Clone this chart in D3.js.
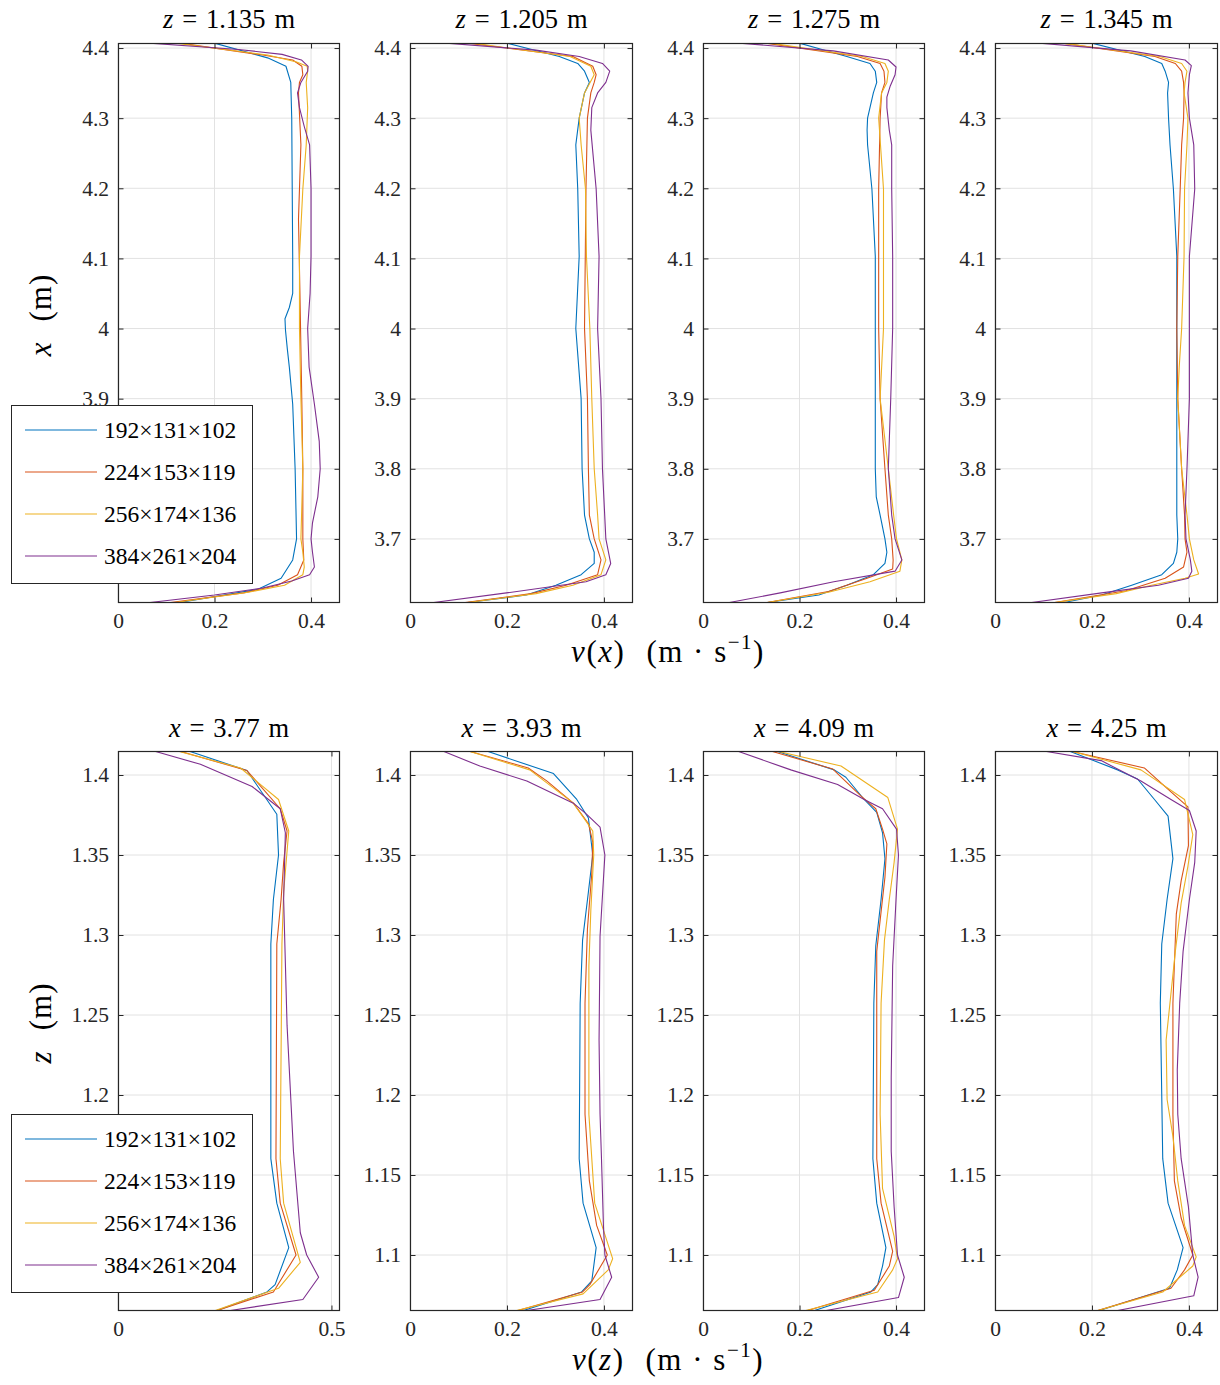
<!DOCTYPE html>
<html><head><meta charset="utf-8">
<script src="https://cdn.jsdelivr.net/npm/d3@7"></script>
<style>body{margin:0;background:#fff}svg{display:block}</style>
</head><body>
<script>
// ---------------- DATA ----------------
const seriesLabels = ["192\u00d7131\u00d7102", "224\u00d7153\u00d7119", "256\u00d7174\u00d7136", "384\u00d7261\u00d7204"];
const topTitleValues = ["1.135", "1.205", "1.275", "1.345"];
const bottomTitleValues = ["3.77", "3.93", "4.09", "4.25"];
const topYTicks = [3.7, 3.8, 3.9, 4.0, 4.1, 4.2, 4.3, 4.4];
const topYTickLabels = ["3.7", "3.8", "3.9", "4", "4.1", "4.2", "4.3", "4.4"];
const bottomYTicks = [1.1, 1.15, 1.2, 1.25, 1.3, 1.35, 1.4];
const bottomYTickLabels = ["1.1", "1.15", "1.2", "1.25", "1.3", "1.35", "1.4"];
const xTicksA = [0, 0.2, 0.4];
const xTickLabelsA = ["0", "0.2", "0.4"];
const xTicksB = [0, 0.5];
const xTickLabelsB = ["0", "0.5"];

// each series: [position (m), velocity (m/s)]; order: blue, orange, yellow, purple
const top1 = [
  [[4.407,0.20],[4.386,0.31],[4.374,0.348],[4.351,0.358],[4.300,0.360],[4.199,0.361],[4.103,0.362],[4.050,0.362],[4.030,0.355],[4.014,0.346],[3.998,0.347],[3.970,0.351],[3.945,0.355],[3.892,0.362],[3.800,0.367],[3.700,0.370],[3.670,0.362],[3.644,0.338],[3.628,0.289],[3.609,0.125]],
  [[4.407,0.13],[4.390,0.30],[4.383,0.362],[4.374,0.381],[4.362,0.383],[4.351,0.376],[4.336,0.374],[4.262,0.379],[4.156,0.374],[4.050,0.377],[3.892,0.381],[3.800,0.383],[3.700,0.383],[3.670,0.385],[3.649,0.372],[3.634,0.331],[3.623,0.26],[3.609,0.105]],
  [[4.407,0.12],[4.390,0.31],[4.380,0.37],[4.374,0.392],[4.367,0.393],[4.351,0.390],[4.315,0.393],[4.262,0.390],[4.199,0.383],[4.103,0.376],[4.000,0.376],[3.900,0.379],[3.800,0.383],[3.700,0.379],[3.681,0.383],[3.660,0.386],[3.649,0.383],[3.634,0.345],[3.624,0.27],[3.609,0.115]],
  [[4.407,0.066],[4.398,0.25],[4.391,0.34],[4.383,0.380],[4.374,0.394],[4.367,0.393],[4.351,0.379],[4.336,0.372],[4.315,0.376],[4.288,0.386],[4.262,0.397],[4.200,0.400],[4.103,0.400],[4.050,0.398],[4.000,0.393],[3.945,0.396],[3.892,0.407],[3.839,0.417],[3.800,0.419],[3.760,0.414],[3.723,0.403],[3.700,0.400],[3.681,0.403],[3.660,0.407],[3.649,0.397],[3.640,0.36],[3.630,0.30],[3.620,0.20],[3.609,0.062]]
];
const top2 = [
  [[4.407,0.20],[4.388,0.308],[4.378,0.346],[4.367,0.360],[4.351,0.370],[4.336,0.360],[4.300,0.349],[4.262,0.342],[4.199,0.346],[4.103,0.349],[4.000,0.342],[3.900,0.353],[3.800,0.355],[3.734,0.360],[3.700,0.370],[3.681,0.380],[3.665,0.380],[3.649,0.353],[3.634,0.301],[3.620,0.24],[3.609,0.115]],
  [[4.407,0.12],[4.388,0.336],[4.374,0.377],[4.362,0.384],[4.351,0.380],[4.336,0.373],[4.300,0.366],[4.199,0.363],[4.000,0.360],[3.900,0.366],[3.800,0.368],[3.734,0.370],[3.700,0.380],[3.670,0.394],[3.649,0.387],[3.634,0.322],[3.622,0.25],[3.609,0.11]],
  [[4.407,0.13],[4.388,0.33],[4.374,0.373],[4.362,0.380],[4.336,0.360],[4.300,0.349],[4.262,0.353],[4.199,0.362],[4.103,0.364],[4.000,0.371],[3.900,0.375],[3.800,0.380],[3.734,0.387],[3.700,0.390],[3.670,0.404],[3.649,0.394],[3.634,0.336],[3.622,0.26],[3.609,0.115]],
  [[4.407,0.075],[4.397,0.26],[4.388,0.349],[4.378,0.397],[4.367,0.412],[4.351,0.404],[4.336,0.387],[4.315,0.375],[4.283,0.373],[4.199,0.384],[4.103,0.390],[4.000,0.387],[3.900,0.394],[3.800,0.397],[3.700,0.404],[3.665,0.414],[3.649,0.404],[3.639,0.363],[3.623,0.199],[3.609,0.045]]
];
const top3 = [
  [[4.407,0.20],[4.388,0.298],[4.378,0.346],[4.367,0.357],[4.351,0.360],[4.336,0.353],[4.315,0.346],[4.300,0.341],[4.283,0.340],[4.262,0.341],[4.199,0.350],[4.103,0.357],[4.000,0.357],[3.900,0.357],[3.800,0.357],[3.760,0.359],[3.734,0.367],[3.700,0.377],[3.681,0.381],[3.665,0.377],[3.649,0.353],[3.634,0.298],[3.620,0.24],[3.609,0.13]],
  [[4.407,0.13],[4.388,0.32],[4.378,0.367],[4.367,0.375],[4.351,0.377],[4.336,0.370],[4.300,0.367],[4.199,0.364],[4.000,0.364],[3.900,0.367],[3.800,0.377],[3.734,0.384],[3.700,0.391],[3.670,0.394],[3.657,0.393],[3.644,0.340],[3.625,0.26],[3.609,0.13]],
  [[4.407,0.14],[4.388,0.33],[4.378,0.377],[4.367,0.384],[4.351,0.381],[4.336,0.370],[4.300,0.364],[4.199,0.374],[4.103,0.374],[4.000,0.374],[3.900,0.367],[3.800,0.384],[3.734,0.395],[3.700,0.401],[3.670,0.412],[3.654,0.408],[3.639,0.346],[3.624,0.26],[3.609,0.13]],
  [[4.407,0.076],[4.396,0.27],[4.383,0.384],[4.373,0.400],[4.362,0.398],[4.346,0.388],[4.330,0.381],[4.315,0.381],[4.283,0.386],[4.262,0.391],[4.199,0.391],[4.103,0.393],[4.000,0.393],[3.900,0.389],[3.800,0.384],[3.734,0.391],[3.700,0.398],[3.670,0.412],[3.654,0.398],[3.639,0.271],[3.623,0.16],[3.609,0.052]]
];
const top4 = [
  [[4.407,0.20],[4.388,0.309],[4.378,0.344],[4.367,0.351],[4.351,0.358],[4.336,0.356],[4.300,0.358],[4.262,0.361],[4.199,0.368],[4.103,0.375],[4.000,0.375],[3.900,0.375],[3.800,0.375],[3.734,0.375],[3.700,0.377],[3.681,0.375],[3.665,0.368],[3.649,0.344],[3.634,0.282],[3.620,0.22],[3.609,0.14]],
  [[4.407,0.14],[4.388,0.33],[4.378,0.372],[4.367,0.385],[4.351,0.389],[4.336,0.390],[4.300,0.389],[4.262,0.385],[4.199,0.382],[4.103,0.377],[4.000,0.375],[3.900,0.377],[3.800,0.385],[3.734,0.391],[3.700,0.392],[3.681,0.396],[3.660,0.389],[3.644,0.351],[3.626,0.27],[3.609,0.12]],
  [[4.407,0.14],[4.388,0.34],[4.378,0.385],[4.367,0.396],[4.351,0.392],[4.336,0.390],[4.300,0.398],[4.262,0.396],[4.199,0.391],[4.103,0.390],[4.000,0.385],[3.945,0.380],[3.900,0.377],[3.800,0.385],[3.734,0.396],[3.700,0.401],[3.670,0.410],[3.650,0.420],[3.644,0.392],[3.634,0.323],[3.622,0.25],[3.609,0.12]],
  [[4.407,0.092],[4.396,0.28],[4.383,0.392],[4.375,0.405],[4.362,0.401],[4.336,0.398],[4.300,0.401],[4.262,0.410],[4.199,0.412],[4.103,0.401],[4.000,0.401],[3.900,0.401],[3.800,0.396],[3.734,0.392],[3.700,0.394],[3.670,0.403],[3.654,0.406],[3.644,0.399],[3.634,0.337],[3.623,0.22],[3.609,0.072]]
];
const bottom1 = [
  [[1.4153,0.162],[1.4028,0.302],[1.3755,0.372],[1.350,0.376],[1.3222,0.364],[1.2944,0.358],[1.1602,0.358],[1.1324,0.372],[1.1046,0.400],[1.0815,0.368],[1.0769,0.349],[1.0653,0.232]],
  [[1.4153,0.139],[1.4028,0.302],[1.3789,0.380],[1.3650,0.396],[1.3454,0.388],[1.3222,0.382],[1.2944,0.372],[1.1602,0.370],[1.1324,0.380],[1.1000,0.417],[1.0769,0.364],[1.0653,0.232]],
  [[1.4153,0.135],[1.4044,0.287],[1.3847,0.376],[1.3650,0.400],[1.3269,0.388],[1.2944,0.384],[1.1602,0.380],[1.1324,0.388],[1.0954,0.427],[1.0792,0.376],[1.0653,0.228]],
  [[1.4153,0.080],[1.4067,0.193],[1.3928,0.314],[1.3789,0.380],[1.3639,0.392],[1.3222,0.388],[1.2435,0.396],[1.1648,0.411],[1.1139,0.427],[1.1000,0.442],[1.0861,0.470],[1.0722,0.433],[1.0653,0.263]]
];
const bottom2 = [
  [[1.4153,0.155],[1.4009,0.296],[1.3847,0.344],[1.3731,0.368],[1.350,0.377],[1.3269,0.368],[1.2968,0.356],[1.2574,0.351],[1.1602,0.349],[1.1324,0.357],[1.1046,0.384],[1.0838,0.375],[1.0769,0.354],[1.0653,0.234]],
  [[1.4153,0.117],[1.4044,0.244],[1.3963,0.282],[1.3824,0.337],[1.3697,0.368],[1.3581,0.377],[1.3384,0.375],[1.3037,0.366],[1.2574,0.361],[1.1880,0.361],[1.1463,0.370],[1.1185,0.385],[1.1000,0.407],[1.0815,0.371],[1.0769,0.356],[1.0653,0.223]],
  [[1.4153,0.117],[1.4032,0.247],[1.3824,0.337],[1.3650,0.377],[1.350,0.379],[1.3153,0.373],[1.2806,0.369],[1.1880,0.369],[1.1324,0.381],[1.0977,0.418],[1.0907,0.409],[1.0757,0.357],[1.0653,0.220]],
  [[1.4153,0.065],[1.4056,0.144],[1.3963,0.241],[1.3824,0.337],[1.3755,0.364],[1.3674,0.392],[1.350,0.402],[1.2991,0.392],[1.2343,0.390],[1.1880,0.392],[1.1602,0.395],[1.1185,0.399],[1.1000,0.402],[1.0861,0.416],[1.0722,0.392],[1.0653,0.241]]
];
const bottom3 = [
  [[1.4153,0.148],[1.4032,0.272],[1.3986,0.296],[1.3847,0.334],[1.3766,0.360],[1.3639,0.372],[1.3477,0.377],[1.3222,0.369],[1.2933,0.358],[1.2574,0.354],[1.1602,0.352],[1.1324,0.360],[1.1046,0.379],[1.0931,0.372],[1.0815,0.362],[1.0769,0.348],[1.0653,0.231]],
  [[1.4153,0.137],[1.4037,0.269],[1.3870,0.327],[1.3789,0.358],[1.3662,0.372],[1.3569,0.381],[1.3361,0.377],[1.3037,0.365],[1.2898,0.360],[1.1602,0.360],[1.1324,0.369],[1.1023,0.393],[1.0931,0.386],[1.0780,0.355],[1.0653,0.217]],
  [[1.4153,0.148],[1.4056,0.286],[1.3859,0.383],[1.3662,0.403],[1.3454,0.396],[1.3222,0.386],[1.2968,0.376],[1.2574,0.369],[1.1880,0.367],[1.1417,0.372],[1.1116,0.396],[1.0977,0.403],[1.0907,0.393],[1.0769,0.362],[1.0653,0.213]],
  [[1.4153,0.068],[1.4032,0.182],[1.3940,0.279],[1.3847,0.334],[1.3789,0.372],[1.3662,0.401],[1.350,0.405],[1.3222,0.400],[1.2806,0.393],[1.2111,0.390],[1.1648,0.390],[1.1301,0.396],[1.1000,0.403],[1.0861,0.417],[1.0734,0.405],[1.0653,0.255]]
];
const bottom4 = [
  [[1.4153,0.150],[1.4032,0.253],[1.3975,0.294],[1.3847,0.329],[1.3743,0.357],[1.3477,0.367],[1.3222,0.355],[1.2944,0.344],[1.2574,0.341],[1.1602,0.346],[1.1324,0.357],[1.1046,0.388],[1.0907,0.376],[1.0792,0.360],[1.0653,0.215]],
  [[1.4153,0.150],[1.4044,0.308],[1.3894,0.363],[1.3801,0.398],[1.3558,0.399],[1.3338,0.384],[1.3130,0.374],[1.2574,0.367],[1.1880,0.367],[1.1463,0.370],[1.1231,0.384],[1.1000,0.408],[1.0907,0.391],[1.0792,0.363],[1.0653,0.212]],
  [[1.4153,0.153],[1.4032,0.301],[1.3847,0.391],[1.3627,0.408],[1.3431,0.398],[1.3199,0.384],[1.2898,0.372],[1.2343,0.353],[1.1972,0.355],[1.1741,0.367],[1.1463,0.377],[1.1185,0.391],[1.0988,0.415],[1.0931,0.408],[1.0769,0.346],[1.0653,0.212]],
  [[1.4153,0.094],[1.4090,0.219],[1.3963,0.301],[1.3847,0.363],[1.3778,0.401],[1.3650,0.415],[1.3454,0.412],[1.3222,0.401],[1.2898,0.388],[1.2574,0.381],[1.2157,0.376],[1.1880,0.377],[1.1602,0.384],[1.1301,0.399],[1.1000,0.408],[1.0861,0.419],[1.0745,0.410],[1.0653,0.253]]
];

// ---------------- LAYOUT / STYLE ----------------
const W = 1220, H = 1385;
const colors = ["#0072BD", "#D95319", "#EDB120", "#7E2F8E"];
const FONT = "'Liberation Serif', 'DejaVu Serif', serif";
const axisColor = "#262626";
const gridColor = "#e2e2e2";
const colLefts = [118, 410, 703, 995];
const colRights = [340, 633, 925, 1218];
const legendBox = { x: 11, w: 241, h: 178 };
const legendTops = [405, 1114];

const svg = d3.select("body").append("svg").attr("width", W).attr("height", H)
  .attr("font-family", FONT);
svg.append("rect").attr("width", W).attr("height", H).attr("fill", "#fff");

const rows = [
  { top: 43, bottom: 603, yDomain: [3.6086, 4.4072], yTicks: topYTicks, yTickLabels: topYTickLabels,
    panels: [top1, top2, top3, top4], titleVar: "z", titleVals: topTitleValues, titleY: 28 },
  { top: 751, bottom: 1311, yDomain: [1.065, 1.415], yTicks: bottomYTicks, yTickLabels: bottomYTickLabels,
    panels: [bottom1, bottom2, bottom3, bottom4], titleVar: "x", titleVals: bottomTitleValues, titleY: 737 }
];

const tickLen = 5.5;

rows.forEach((row, ri) => {
  row.panels.forEach((panelData, pi) => {
    const L = colLefts[pi], R = colRights[pi];
    const isWide = (ri === 1 && pi === 0);
    const xs = d3.scaleLinear().domain([0, isWide ? 0.52 : 0.46]).range([L, R]);
    const ys = d3.scaleLinear().domain(row.yDomain).range([row.bottom, row.top]);
    const xT = isWide ? xTicksB : xTicksA;
    const xTL = isWide ? xTickLabelsB : xTickLabelsA;
    const g = svg.append("g");

    // grid
    g.selectAll(null).data(xT).enter().append("line")
      .attr("x1", d => xs(d)).attr("x2", d => xs(d)).attr("y1", row.top).attr("y2", row.bottom)
      .attr("stroke", gridColor).attr("stroke-width", 1);
    g.selectAll(null).data(row.yTicks).enter().append("line")
      .attr("y1", d => ys(d)).attr("y2", d => ys(d)).attr("x1", L).attr("x2", R)
      .attr("stroke", gridColor).attr("stroke-width", 1);

    // data lines
    const clipId = "clip" + ri + "_" + pi;
    svg.append("clipPath").attr("id", clipId).append("rect")
      .attr("x", L).attr("y", row.top).attr("width", R - L).attr("height", row.bottom - row.top);
    const line = d3.line().x(d => xs(d[1])).y(d => ys(d[0]));
    panelData.forEach((s, si) => {
      g.append("path").attr("d", line(s)).attr("fill", "none")
        .attr("stroke", colors[si]).attr("stroke-width", 1.1)
        .attr("stroke-linejoin", "round")
        .attr("clip-path", `url(#${clipId})`);
    });

    // y tick labels hidden behind the legend (first column) are not drawn
    const lt = legendTops[ri];
    const visibleY = (pi === 0) ? row.yTicks.filter(v => { const py = ys(v); return py < lt - 2 || py > lt + legendBox.h + 8; }) : row.yTicks;

    // axes (d3 axes, inward ticks on all sides)
    const axL = d3.axisLeft(ys).tickValues(row.yTicks)
      .tickFormat((d, i) => visibleY.includes(d) ? row.yTickLabels[i] : "")
      .tickSizeInner(-tickLen).tickSizeOuter(0).tickPadding(9);
    const gl = g.append("g").attr("transform", `translate(${L},0)`).call(axL);
    const axR = d3.axisRight(ys).tickValues(row.yTicks).tickFormat("").tickSizeInner(-tickLen).tickSizeOuter(0);
    const gr = g.append("g").attr("transform", `translate(${R},0)`).call(axR);
    const axB = d3.axisBottom(xs).tickValues(xT).tickFormat((d, i) => xTL[i]).tickSizeInner(-tickLen).tickSizeOuter(0).tickPadding(10);
    const gb = g.append("g").attr("transform", `translate(0,${row.bottom})`).call(axB);
    const axT = d3.axisTop(xs).tickValues(xT).tickFormat("").tickSizeInner(-tickLen).tickSizeOuter(0);
    const gt = g.append("g").attr("transform", `translate(0,${row.top})`).call(axT);
    [gl, gr, gb, gt].forEach(a => {
      a.select(".domain").remove();
      a.selectAll(".tick line").attr("stroke", axisColor).attr("stroke-width", 1);
      a.selectAll(".tick text").attr("fill", axisColor).attr("font-size", 21.5).attr("font-family", FONT);
    });
    gb.selectAll(".tick text").attr("dy", "0.71em");
    // frame
    g.append("rect").attr("x", L + 0.5).attr("y", row.top + 0.5)
      .attr("width", R - L - 1).attr("height", row.bottom - row.top - 1)
      .attr("fill", "none").attr("stroke", axisColor).attr("stroke-width", 1.2);

    // title
    const t = svg.append("text").attr("x", (L + R) / 2).attr("y", row.titleY)
      .attr("text-anchor", "middle").attr("font-size", 26.5).attr("fill", "#000");
    t.append("tspan").attr("font-style", "italic").text(row.titleVar);
    t.append("tspan").text("\u2004=\u2004" + row.titleVals[pi] + "\u2004m");
  });
});

// axis labels
function vLabel(y, v) {
  const t = svg.append("text").attr("x", 668).attr("y", y).attr("text-anchor", "middle")
    .attr("font-size", 31).attr("fill", "#000").attr("letter-spacing", 1.5);
  t.append("tspan").attr("font-style", "italic").text("v");
  t.append("tspan").text("(");
  t.append("tspan").attr("font-style", "italic").text(v);
  t.append("tspan").text(")\u2004 (m \u00b7 s");
  t.append("tspan").attr("font-size", 21).attr("dy", -13).text("\u22121");
  t.append("tspan").attr("dy", 13).text(")");
}
vLabel(662, "x");
vLabel(1370, "z");

function yLabel(cy, v) {
  const t = svg.append("text").attr("transform", `translate(51,${cy}) rotate(-90)`)
    .attr("text-anchor", "middle").attr("font-size", 31).attr("fill", "#000").attr("letter-spacing", 1);
  t.append("tspan").attr("font-style", "italic").text(v);
  t.append("tspan").text("\u2004 (m)");
}
yLabel(315, "x");
yLabel(1023, "z");

// legends
function legend(top) {
  const g = svg.append("g");
  g.append("rect").attr("x", legendBox.x + 0.5).attr("y", top + 0.5).attr("width", legendBox.w).attr("height", legendBox.h)
    .attr("fill", "#fff").attr("stroke", axisColor).attr("stroke-width", 1);
  seriesLabels.forEach((lab, i) => {
    const y = top + 25 + i * 42;
    g.append("line").attr("x1", 25).attr("x2", 97).attr("y1", y).attr("y2", y)
      .attr("stroke", colors[i]).attr("stroke-width", 1.1);
    g.append("text").attr("x", 104).attr("y", y).attr("dy", "0.35em")
      .attr("font-size", 23.5).attr("fill", "#000").text(lab);
  });
}
legendTops.forEach(legend);
</script>
</body></html>
